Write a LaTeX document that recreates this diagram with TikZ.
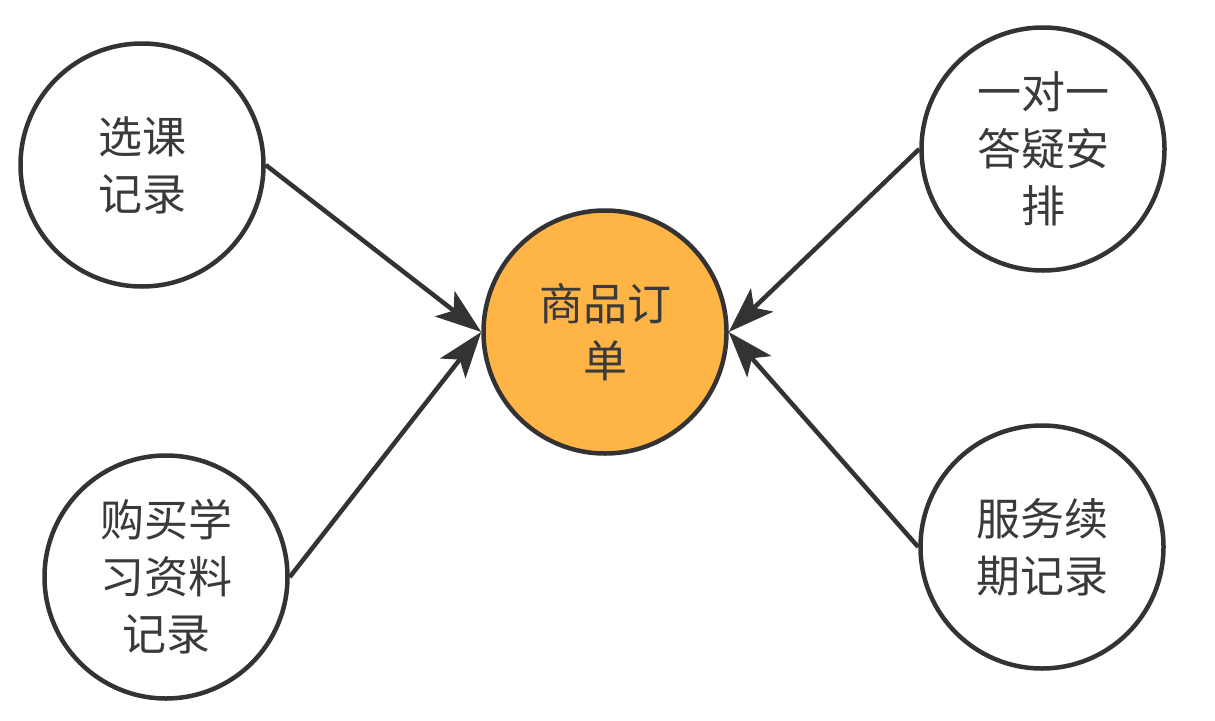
\documentclass[tikz,border=0pt]{standalone}
\usepackage{fontspec}
\setmainfont{Noto Sans CJK SC}
\usetikzlibrary{arrows.meta}
\definecolor{linec}{HTML}{333333}
\definecolor{textc}{HTML}{3A3A3A}
\definecolor{orangec}{HTML}{FFB446}
\begin{document}
\begin{tikzpicture}[x=1pt,y=-1pt,
  bubble/.style={circle,draw=linec,line width=4.5pt,fill=white,minimum size=243pt,inner sep=0pt,
    text width=160pt,align=center,text=textc,font=\fontsize{44pt}{57pt}\selectfont},
  hub/.style={bubble,fill=orangec},
  conn/.style={draw=linec,line width=4.5pt,-{Stealth[length=46pt,width=32pt,inset=11pt]}}]
\useasboundingbox (0,0) rectangle (1215,720);
\node[hub] (c) at (605,332) {商品订\\单};
\node[bubble] (tl) at (142,165) {选课\\记录};
\node[bubble] (bl) at (166,577) {购买学\\习资料\\记录};
\node[bubble] (tr) at (1043,149) {一对一\\答疑安\\排};
\node[bubble] (br) at (1042,547) {服务续\\期记录};
\draw[conn] (tl.east) -- (c.west);
\draw[conn] (bl.east) -- (c.west);
\draw[conn] (tr.west) -- (c.east);
\draw[conn] (br.west) -- (c.east);
\end{tikzpicture}
\end{document}
